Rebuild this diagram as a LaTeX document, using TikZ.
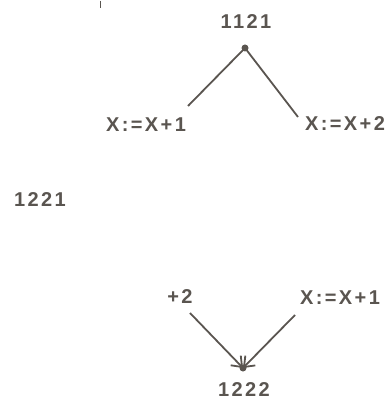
\documentclass[tikz,border=0pt]{standalone}
\usepackage{fontspec}
\setmainfont{Liberation Sans}[LetterSpace=12]
\usetikzlibrary{arrows.meta}
\definecolor{ink}{HTML}{5A5550}
\tikzset{
  lbl/.style={text=ink, font=\fontsize{20}{22}\selectfont\bfseries, inner sep=0pt},
  edge/.style={draw=ink, line width=1.8pt},
  arr/.style={edge, -{Straight Barb[length=9pt,width=14pt,line width=1.8pt]}},
  pt/.style={circle, fill=ink, inner sep=0pt, minimum size=7pt}
}
\begin{document}
\begin{tikzpicture}[x=1pt,y=-1pt]
  \useasboundingbox (0,0) rectangle (384,403);
  % small pen mark at the top
  \draw[ink, line width=0.8pt] (100,1) -- (100,8);

  % upper fork
  \node[lbl] (t1) at (246,22) {1121};
  \node[pt] (s1) at (245,48) {};
  \coordinate (l1) at (188,106);
  \coordinate (r1) at (298,117);
  \draw[edge] (s1.center) -- (l1);
  \draw[edge] (s1.center) -- (r1);
  \node[lbl] (a1) at (146,125) {X:=X+1};
  \node[lbl] (a2) at (345,124) {X:=X+2};

  % middle label
  \node[lbl] (m) at (40,200) {1221};

  % lower join
  \node[lbl] (b1) at (180,297) {+2};
  \node[lbl] (b2) at (340,298) {X:=X+1};
  \node[pt] (s2) at (243,368) {};
  \node[lbl] (t2) at (244,390) {1222};
  \coordinate (p1) at (190,313);
  \coordinate (p2) at (295,315);
  \draw[arr] (p1) -- (s2.center);
  \draw[arr] (p2) -- (s2.center);
\end{tikzpicture}
\end{document}
